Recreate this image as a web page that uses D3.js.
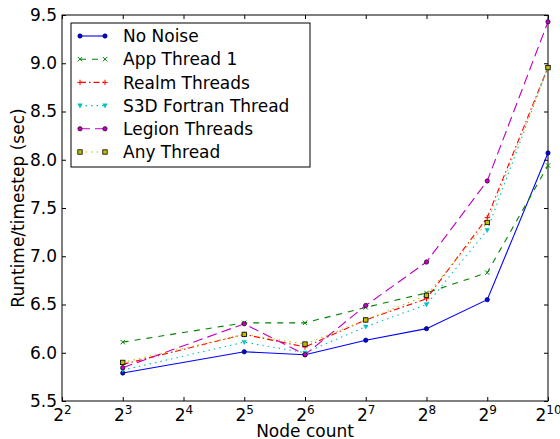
<!DOCTYPE html>
<html><head><meta charset="utf-8">
<script src="https://cdn.jsdelivr.net/npm/d3@7"></script>
<style>
body{margin:0;background:#fff;}
text{font-family:"DejaVu Sans",sans-serif;}
</style></head>
<body><svg id="chart" width="560" height="439"></svg>
<script>
const nodeExp = [3, 5, 6, 7, 8, 9, 10];
const xTicks = [2, 3, 4, 5, 6, 7, 8, 9, 10];
const yTicks = [5.5, 6.0, 6.5, 7.0, 7.5, 8.0, 8.5, 9.0, 9.5];
const noNoise = [5.79, 6.01, 5.98, 6.13, 6.25, 6.55, 8.07];
const appThread1 = [6.11, 6.31, 6.31, 6.47, 6.62, 6.83, 7.94];
const realmThreads = [5.88, 6.19, 6.06, 6.34, 6.56, 7.40, 8.96];
const s3dFortran = [5.82, 6.11, 6.00, 6.27, 6.50, 7.27, 8.96];
const legionThreads = [5.845, 6.30, 5.98, 6.49, 6.94, 7.78, 9.43];
const anyThread = [5.90, 6.19, 6.09, 6.34, 6.595, 7.35, 8.955];
const seriesNames = ["No Noise", "App Thread 1", "Realm Threads", "S3D Fortran Thread", "Legion Threads", "Any Thread"];

const styles = [
  {color:"#0000ff", dash:null, marker:"o"},
  {color:"#008000", dash:"6,6", marker:"x"},
  {color:"#ff0000", dash:"6,3,1.5,3", marker:"+"},
  {color:"#00bfbf", dash:"1.5,4", marker:"v"},
  {color:"#bf00bf", dash:"10,5", marker:"o"},
  {color:"#bfbf00", dash:"1.5,4", marker:"s"}
];
const allSeries = [noNoise, appThread1, realmThreads, s3dFortran, legionThreads, anyThread];

const svg = d3.select("#chart");
const L = 62, R = 548, T = 15, B = 401;
const x = d3.scaleLinear().domain([2, 10]).range([L, R]);
const y = d3.scaleLinear().domain([5.5, 9.5]).range([B, T]);

// axes
const tk = 4;
const gB = svg.append("g").attr("transform", `translate(0,${B})`)
  .call(d3.axisBottom(x).tickValues(xTicks).tickSizeInner(-tk).tickSizeOuter(0).tickPadding(6).tickFormat(""));
const gT = svg.append("g").attr("transform", `translate(0,${T})`)
  .call(d3.axisTop(x).tickValues(xTicks).tickSizeInner(-tk).tickSizeOuter(0).tickFormat(""));
const gL = svg.append("g").attr("transform", `translate(${L},0)`)
  .call(d3.axisLeft(y).tickValues(yTicks).tickSizeInner(-tk).tickSizeOuter(0).tickPadding(5).tickFormat(d3.format(".1f")));
const gR = svg.append("g").attr("transform", `translate(${R},0)`)
  .call(d3.axisRight(y).tickValues(yTicks).tickSizeInner(-tk).tickSizeOuter(0).tickFormat(""));
[gB, gT, gL, gR].forEach(g => {
  g.select(".domain").remove();
  g.selectAll(".tick line").attr("stroke", "#000").attr("stroke-width", 1);
});
gL.selectAll(".tick text").attr("font-size", 17).attr("fill", "#000").attr("font-family", "DejaVu Sans").attr("x", -5);

// x tick labels as powers of 2
gB.selectAll(".tick").each(function(d) {
  const t = d3.select(this).append("text")
    .attr("y", 20).attr("text-anchor", "middle").attr("fill", "#000")
    .attr("font-family", "DejaVu Sans");
  t.append("tspan").attr("font-size", 17).attr("dy", "0").text("2");
  t.append("tspan").attr("font-size", 12).attr("dy", "-7").text(d);
});

// frame
svg.append("rect").attr("x", L).attr("y", T).attr("width", R - L).attr("height", B - T)
  .attr("fill", "none").attr("stroke", "#000").attr("stroke-width", 1);

function drawMarker(g, type, cx, cy, color) {
  const s = 2.2;
  if (type === "o") {
    g.append("circle").attr("cx", cx).attr("cy", cy).attr("r", s).attr("fill", color).attr("stroke", "#000").attr("stroke-width", 0.6);
  } else if (type === "s") {
    g.append("rect").attr("x", cx - s).attr("y", cy - s).attr("width", 2 * s).attr("height", 2 * s).attr("fill", color).attr("stroke", "#000").attr("stroke-width", 0.8);
  } else if (type === "x") {
    g.append("path").attr("d", `M${cx - s},${cy - s}L${cx + s},${cy + s}M${cx - s},${cy + s}L${cx + s},${cy - s}`).attr("stroke", color).attr("stroke-width", 1);
  } else if (type === "+") {
    g.append("path").attr("d", `M${cx - s - 0.5},${cy}L${cx + s + 0.5},${cy}M${cx},${cy - s - 0.5}L${cx},${cy + s + 0.5}`).attr("stroke", color).attr("stroke-width", 1);
  } else if (type === "v") {
    g.append("path").attr("d", `M${cx - s},${cy - s * 0.8}L${cx + s},${cy - s * 0.8}L${cx},${cy + s * 1.1}Z`).attr("fill", color).attr("stroke", color).attr("stroke-width", 0.5);
  }
}

const plot = svg.append("g");
const line = d3.line().x((d, i) => x(nodeExp[i])).y(d => y(d));
allSeries.forEach((vals, si) => {
  const st = styles[si];
  const g = plot.append("g");
  g.append("path").attr("d", line(vals)).attr("fill", "none").attr("stroke", st.color).attr("stroke-width", 1.1)
    .attr("stroke-dasharray", st.dash);
  vals.forEach((v, i) => drawMarker(g, st.marker, x(nodeExp[i]), y(v), st.color));
});

// legend
const lg = svg.append("g");
lg.append("rect").attr("x", 71).attr("y", 23).attr("width", 239).attr("height", 144)
  .attr("fill", "#fff").attr("stroke", "#000").attr("stroke-width", 1);
seriesNames.forEach((name, i) => {
  const st = styles[i];
  const ly = 36 + i * 23.2;
  lg.append("line").attr("x1", 80).attr("x2", 105).attr("y1", ly).attr("y2", ly)
    .attr("stroke", st.color).attr("stroke-width", 1.1).attr("stroke-dasharray", st.dash);
  drawMarker(lg, st.marker, 80, ly, st.color);
  drawMarker(lg, st.marker, 105, ly, st.color);
  lg.append("text").attr("x", 123).attr("y", ly).attr("dy", "0.36em").attr("font-size", 17).attr("fill", "#000").text(name);
});

// axis titles
svg.append("text").attr("x", (L + R) / 2).attr("y", 437).attr("text-anchor", "middle").attr("font-size", 17).text("Node count");
svg.append("text").attr("transform", `translate(24,${(T + B) / 2}) rotate(-90)`).attr("text-anchor", "middle").attr("font-size", 17).text("Runtime/timestep (sec)");
</script></body></html>
